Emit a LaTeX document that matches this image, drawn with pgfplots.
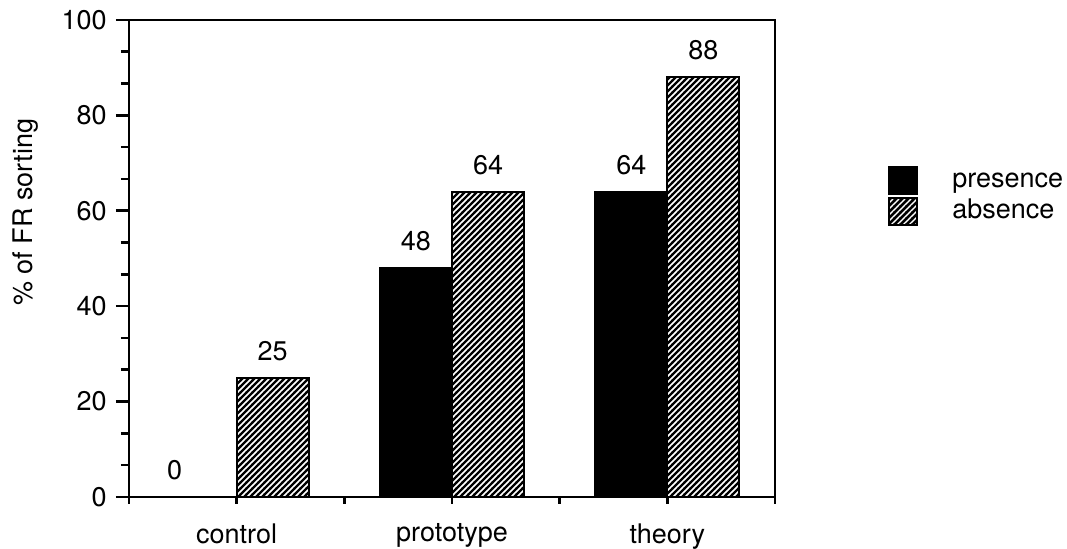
\documentclass[border=0pt]{standalone}
\usepackage{fontspec}
\setmainfont{TeX Gyre Heros}
\usepackage{pgfplots}
\pgfplotsset{compat=1.18}
\usetikzlibrary{patterns}

% diagonal hatching, black lines on white
\pgfdeclarepatternformonly{hatch}{\pgfqpoint{-0.5pt}{-0.5pt}}{\pgfqpoint{3.5pt}{3.5pt}}{\pgfqpoint{3pt}{3pt}}{%
  \pgfsetlinewidth{1.15pt}
  \pgfpathmoveto{\pgfqpoint{-0.5pt}{-0.5pt}}
  \pgfpathlineto{\pgfqpoint{3.5pt}{3.5pt}}
  \pgfusepath{stroke}}

\begin{document}
\fontsize{13.5}{16}\selectfont
\begin{tikzpicture}
\useasboundingbox (-64.5pt,-26pt) rectangle (469pt,248.5pt);
\begin{axis}[
  scale only axis,
  width=323pt, height=238.5pt,
  xmin=-0.5, xmax=2.5, ymin=0, ymax=100,
  axis line style={line width=1.3pt},
  ybar, bar width=0.335,
  xtick={-0.5,0.5,1.5,2.5}, xticklabels={},
  xtick style={/pgfplots/major tick length=3.5pt},
  extra x ticks={0,1,2},
  extra x tick labels={control,prototype,theory},
  extra x tick style={major tick length=0pt, tick label style={anchor=north, inner sep=0pt, yshift=-13pt}},
  ytick={0,20,...,100}, minor y tick num=2,
  tick align=outside, xtick pos=left, ytick pos=left,
  major tick length=6.5pt, minor tick length=4pt,
  tick style={line width=1.3pt, black},
  /pgf/number format/assume math mode=true,
  ylabel={\% of FR sorting},
  y label style={at={(axis description cs:0,0.597)}, anchor=base, yshift=48pt},
  nodes near coords,
  every node near coord/.append style={anchor=south, inner sep=0pt, yshift=8pt, black},
  legend style={at={(axis description cs:1.175,0.63)}, anchor=west, draw=none, fill=none,
    inner sep=0pt, row sep=1pt, cells={anchor=west},
    nodes={inner sep=0pt, text height=9.8pt, text depth=3pt}},
  legend cell align=left,
]
\addplot[fill=black, draw=black, line width=1pt, bar shift=-0.1675,
  coordinate style/.condition={\coordindex==0}{xshift=-13pt},
  legend image code/.code={\fill[black] (0pt,-6.75pt) rectangle (14pt,6.75pt); \path (31pt,0pt);}]
  coordinates {(0,0) (1,48) (2,64)};
\addlegendentry{presence}
\addplot[pattern=hatch, draw=black, line width=1pt, bar shift=0.1675,
  legend image code/.code={\fill[pattern=hatch] (0pt,-6.75pt) rectangle (14pt,6.75pt); \draw[line width=0.8pt] (0pt,-6.75pt) rectangle (14pt,6.75pt); \path (31pt,0pt);}]
  coordinates {(0,25) (1,64) (2,88)};
\addlegendentry{absence}
\end{axis}
\end{tikzpicture}
\end{document}
